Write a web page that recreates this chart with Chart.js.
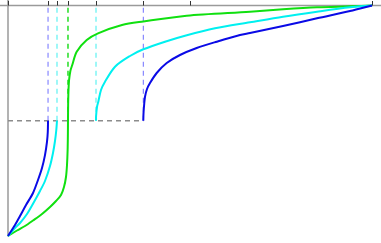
<!DOCTYPE html>
<html>
<head>
<meta charset="utf-8">
<script src="https://cdn.jsdelivr.net/npm/chart.js@4/dist/chart.umd.min.js"></script>
<style>
html,body{margin:0;padding:0;background:#fff;}
canvas{display:block;}
</style>
</head>
<body>
<canvas id="c" width="381" height="243"></canvas>
<script>
// Blue curve (two branches)
const blueLowerX = [0, 0.0192, 0.033, 0.0495, 0.0687, 0.0824, 0.0934, 0.1016, 0.1071, 0.1093, 0.11];
const blueLowerY = [0, 0.0477, 0.0868, 0.1345, 0.1866, 0.243, 0.295, 0.351, 0.408, 0.451, 0.5];
const blueUpperX = [0.3717, 0.372, 0.3725, 0.3742, 0.3764, 0.3819, 0.3901, 0.4085, 0.436, 0.4725, 0.5184, 0.5734, 0.6374, 0.6648, 0.7555, 0.8489, 0.9396, 1];
const blueUpperY = [0.5, 0.5206, 0.5379, 0.5727, 0.6043, 0.6377, 0.6638, 0.7072, 0.7505, 0.7852, 0.8156, 0.843, 0.872, 0.8807, 0.911, 0.9445, 0.9761, 1];
// Cyan curve (two branches)
const cyanLowerX = [0, 0.0192, 0.033, 0.0522, 0.0714, 0.0879, 0.1016, 0.1154, 0.1236, 0.1291, 0.1327, 0.1346];
const cyanLowerY = [0, 0.0347, 0.0564, 0.0954, 0.1475, 0.1952, 0.2386, 0.3037, 0.3601, 0.4121, 0.4599, 0.5];
const cyanUpperX = [0.2418, 0.242, 0.2445, 0.2481, 0.2555, 0.2665, 0.294, 0.3352, 0.3717, 0.4313, 0.4863, 0.5687, 0.6648, 0.7555, 0.8489, 0.9396, 1];
const cyanUpperY = [0.5, 0.5206, 0.5597, 0.5826, 0.6334, 0.6694, 0.7345, 0.7809, 0.81, 0.843, 0.869, 0.9011, 0.9271, 0.9514, 0.9731, 0.9922, 1];
// Green curve (continuous)
const greenX = [0, 0.0247, 0.0467, 0.0687, 0.0934, 0.1154, 0.1319, 0.1456, 0.1538, 0.1593, 0.1621, 0.1638, 0.1645, 0.1648, 0.1652, 0.1662, 0.1678, 0.1712, 0.1765, 0.1887, 0.2162, 0.2473, 0.3132, 0.3717, 0.4909, 0.6648, 0.7555, 0.8489, 0.9396, 1];
const greenY = [0, 0.0239, 0.0434, 0.0672, 0.0954, 0.1258, 0.1518, 0.1779, 0.2126, 0.256, 0.308, 0.3731, 0.4382, 0.5, 0.5683, 0.6334, 0.6768, 0.715, 0.7419, 0.7996, 0.8503, 0.8794, 0.9154, 0.9306, 0.9557, 0.9731, 0.9835, 0.9922, 0.9965, 1];
// Guide lines
const dashBlueX = [0.11, 0.3717];
const dashCyanX = [0.1346, 0.2418];
const dashGreenX = [0.1648];
const guideY = [0.5, 1];
const hGuideX = [0, 0.3717];
const tickXs = [0, 0.11, 0.1346, 0.1648, 0.2418, 0.3717, 0.5, 1];

const pts = (xs, ys) => xs.map((x, i) => ({x: x, y: ys[i]}));
const vline = x => guideY.map(y => ({x: x, y: y}));

const curve = (data, color) => ({data, borderColor: color, borderWidth: 2, showLine: true, pointRadius: 0, fill: false, tension: 0.3, clip: false, order: 0});
const dash = (data, color, w) => ({data, borderColor: color, borderWidth: w, borderDash: [5, 4], showLine: true, pointRadius: 0, fill: false, tension: 0, clip: false, order: 5});

const datasets = [];
dashBlueX.forEach(x => datasets.push(dash(vline(x), '#6f6fff', 1)));
dashCyanX.forEach(x => datasets.push(dash(vline(x), '#7ff5f5', 1.5)));
dashGreenX.forEach(x => datasets.push(dash(vline(x), '#22dd22', 1.5)));
datasets.push(dash(hGuideX.map(x => ({x: x, y: 0.5})), '#8c8c8c', 1.5));
datasets.push(curve(pts(blueLowerX, blueLowerY), '#0a0ae6'));
datasets.push(curve(pts(blueUpperX, blueUpperY), '#0a0ae6'));
datasets.push(curve(pts(cyanLowerX, cyanLowerY), '#00f0f0'));
datasets.push(curve(pts(cyanUpperX, cyanUpperY), '#00f0f0'));
datasets.push(curve(pts(greenX, greenY), '#10e010'));

const axesPlugin = {
  id: 'axesPlugin',
  beforeDatasetsDraw(chart) {
    const ctx = chart.ctx;
    const xs = chart.scales.x, ys = chart.scales.y;
    const y1 = ys.getPixelForValue(1), y0 = ys.getPixelForValue(0);
    const x0 = xs.getPixelForValue(0);
    ctx.save();
    ctx.strokeStyle = '#9a9a9a';
    ctx.lineWidth = 1.5;
    ctx.beginPath();
    ctx.moveTo(0, y1); ctx.lineTo(chart.width, y1);
    ctx.moveTo(x0, 0); ctx.lineTo(x0, y0 + 0.5);
    ctx.stroke();
    ctx.strokeStyle = '#333';
    ctx.lineWidth = 1;
    ctx.beginPath();
    tickXs.forEach(v => {
      const px = Math.round(xs.getPixelForValue(v)) + 0.5;
      ctx.moveTo(px, y1 - 4.5); ctx.lineTo(px, y1);
    });
    ctx.stroke();
    ctx.restore();
  }
};

new Chart(document.getElementById('c'), {
  type: 'scatter',
  data: {datasets},
  options: {
    responsive: false,
    animation: false,
    events: [],
    layout: {padding: {left: 8, top: 5.5, right: 9, bottom: 7}},
    plugins: {legend: {display: false}, tooltip: {enabled: false}},
    scales: {
      x: {type: 'linear', min: 0, max: 1, display: false},
      y: {type: 'linear', min: 0, max: 1, display: false}
    }
  },
  plugins: [axesPlugin]
});
</script>
</body>
</html>
